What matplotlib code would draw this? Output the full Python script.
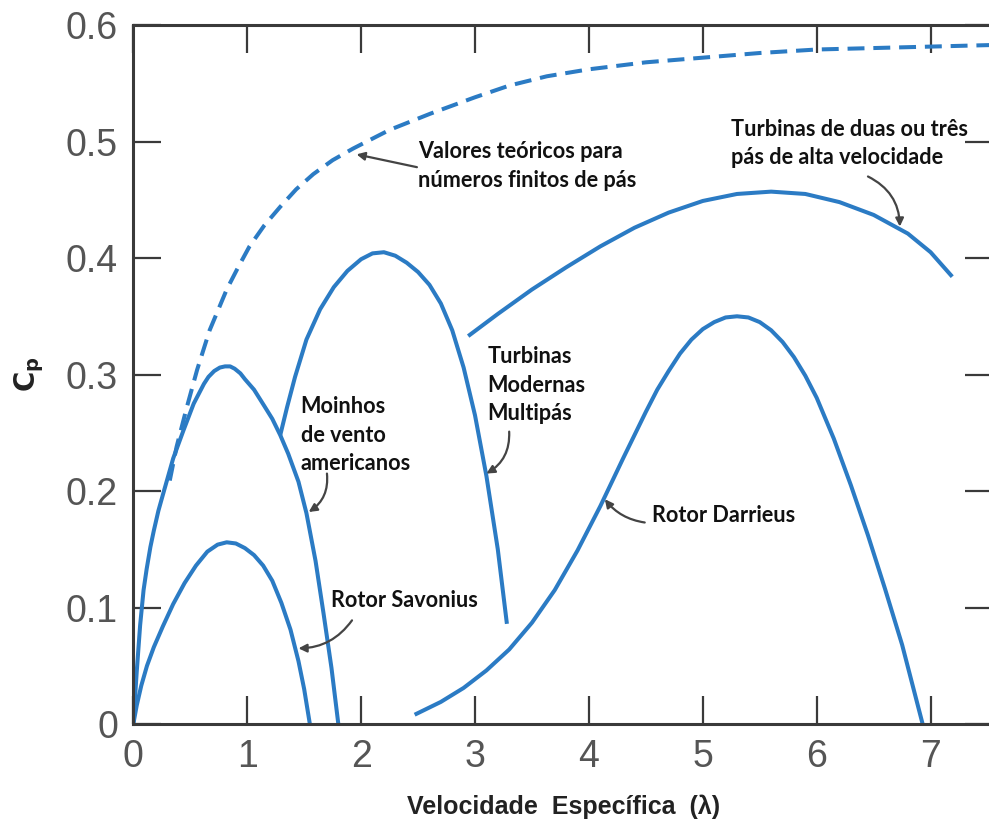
import matplotlib
matplotlib.use("Agg")
import matplotlib.pyplot as plt

# DATA

savonius_x = [0, 0.03, 0.07, 0.12, 0.18, 0.26, 0.35, 0.45, 0.55, 0.65, 0.74, 0.82,
              0.90, 0.98, 1.06, 1.14, 1.22, 1.30, 1.38, 1.45, 1.50, 1.55]
savonius_y = [0, 0.016, 0.033, 0.050, 0.066, 0.084, 0.103, 0.121, 0.136, 0.148, 0.154, 0.156,
              0.155, 0.151, 0.145, 0.136, 0.123, 0.104, 0.081, 0.054, 0.030, 0]

moinhos_x = [0, 0.03, 0.06, 0.09, 0.117, 0.15, 0.18, 0.22, 0.263, 0.35, 0.44, 0.53, 0.62, 0.66,
             0.71, 0.76, 0.805, 0.85, 0.89, 0.94, 0.98, 1.06, 1.15, 1.22, 1.29, 1.36, 1.45,
             1.52, 1.60, 1.67, 1.74, 1.80]
moinhos_y = [0, 0.045, 0.085, 0.115, 0.133, 0.152, 0.166, 0.183, 0.198, 0.228, 0.252, 0.275,
             0.292, 0.298, 0.303, 0.306, 0.307, 0.307, 0.305, 0.301, 0.296, 0.287, 0.273, 0.262,
             0.248, 0.232, 0.208, 0.181, 0.140, 0.095, 0.048, 0]

multipas_x = [1.29, 1.35, 1.42, 1.52, 1.64, 1.76, 1.88, 2.00, 2.10, 2.20, 2.30, 2.40,
              2.50, 2.60, 2.70, 2.80, 2.90, 3.00, 3.10, 3.20, 3.28]
multipas_y = [0.248, 0.272, 0.298, 0.330, 0.356, 0.375, 0.389, 0.399, 0.404, 0.405, 0.402, 0.396,
              0.388, 0.377, 0.361, 0.338, 0.306, 0.265, 0.213, 0.150, 0.086]

alta_x = [2.94, 3.2, 3.5, 3.8, 4.1, 4.4, 4.7, 5.0, 5.3, 5.6, 5.9, 6.2, 6.5, 6.8, 7.0, 7.19]
alta_y = [0.333, 0.352, 0.373, 0.392, 0.410, 0.426, 0.439, 0.449, 0.455, 0.457, 0.455, 0.448,
          0.437, 0.421, 0.405, 0.384]

darrieus_x = [2.47, 2.7, 2.9, 3.1, 3.3, 3.5, 3.7, 3.9, 4.1, 4.3, 4.5, 4.6, 4.7, 4.8, 4.9,
              5.0, 5.1, 5.2, 5.3, 5.4, 5.5, 5.6, 5.7, 5.8, 5.9, 6.0, 6.15, 6.3, 6.45, 6.6,
              6.75, 6.93]
darrieus_y = [0.008, 0.019, 0.031, 0.046, 0.064, 0.087, 0.115, 0.149, 0.187, 0.228, 0.268, 0.287,
              0.303, 0.318, 0.330, 0.339, 0.345, 0.349, 0.350, 0.349, 0.345, 0.338, 0.328, 0.315,
              0.299, 0.280, 0.245, 0.205, 0.162, 0.116, 0.068, 0]

teorico_x = [0.32, 0.38, 0.47, 0.56, 0.67, 0.82, 0.92, 1.02, 1.15, 1.29, 1.43, 1.58, 1.75, 1.93,
             2.25, 2.61, 3.0, 3.3, 3.63, 4.0, 4.5, 5.0, 5.5, 6.0, 6.8, 7.6]
teorico_y = [0.209, 0.238, 0.272, 0.304, 0.338, 0.373, 0.392, 0.410, 0.428, 0.444, 0.459, 0.472,
             0.484, 0.494, 0.510, 0.524, 0.538, 0.548, 0.556, 0.562, 0.568, 0.572, 0.576, 0.579,
             0.581, 0.583]

x_ticks = [0, 1, 2, 3, 4, 5, 6, 7]
y_ticks = [0, 0.1, 0.2, 0.3, 0.4, 0.5, 0.6]
y_tick_labels = ["0", "0.1", "0.2", "0.3", "0.4", "0.5", "0.6"]

# labels: text, text position, arrow tail, arrow head, curvature
labels = [
    ("Valores teóricos para\nnúmeros finitos de pás", (2.50, 0.479), (2.49, 0.478), (1.96, 0.489), 0.0),
    ("Turbinas de duas ou três\npás de alta velocidade", (5.25, 0.498), (6.45, 0.470), (6.73, 0.427), -0.3),
    ("Turbinas\nModernas\nMultipás", (3.11, 0.291), (3.30, 0.251), (3.10, 0.215), -0.3),
    ("Moinhos\nde vento\namericanos", (1.47, 0.248), (1.70, 0.215), (1.54, 0.182), -0.3),
    ("Rotor Savonius", (1.735, 0.106), (1.92, 0.089), (1.45, 0.065), -0.25),
    ("Rotor Darrieus", (4.55, 0.179), (4.49, 0.173), (4.14, 0.193), -0.2),
]

# PLOT

blue = "#2b7bc4"
grey = "#3a3a3a"

fig = plt.figure(figsize=(9.89, 8.21), dpi=100)
ax = fig.add_axes([0.1348, 0.1181, 0.8695, 0.8514])

for xs, ys in [(savonius_x, savonius_y), (moinhos_x, moinhos_y), (multipas_x, multipas_y),
               (alta_x, alta_y), (darrieus_x, darrieus_y)]:
    ax.plot(xs, ys, color=blue, lw=2.9, solid_capstyle="butt", solid_joinstyle="round")
ax.plot(teorico_x, teorico_y, color=blue, lw=2.9, dashes=(4.2, 2.2))

for text, pos, tail, head, rad in labels:
    ax.text(pos[0], pos[1], text, ha="left", va="center", fontsize=15.6,
            fontweight="bold", family="Lato", color="#111111", linespacing=1.42)
    ax.annotate("", xy=head, xytext=tail,
                arrowprops=dict(arrowstyle="-|>", color="#444444", lw=1.6,
                                mutation_scale=12, shrinkA=0, shrinkB=0,
                                connectionstyle="arc3,rad=%s" % rad))

ax.set_xlim(0, 7.55)
ax.set_ylim(0, 0.6)
ax.set_xticks(x_ticks)
ax.set_xticklabels([str(v) for v in x_ticks])
ax.set_yticks(y_ticks)
ax.set_yticklabels(y_tick_labels)

ax.tick_params(direction="in", length=20, width=1.6, color=grey, pad=11,
               labelsize=27, labelcolor="#555555", top=True, right=True)
for side in ax.spines:
    ax.spines[side].set_linewidth(2.2)
    ax.spines[side].set_color(grey)

for lab in ax.get_xticklabels() + ax.get_yticklabels():
    lab.set_family("Liberation Sans")

ax.set_xlabel("Velocidade  Específica  (λ)", fontsize=18, fontweight="bold",
              family="Liberation Sans", color="#222222", labelpad=14)
ax.set_ylabel(r"$\mathbf{C_p}$", fontsize=20, color="#222222", labelpad=14)

plt.savefig("out.png", dpi=100)
